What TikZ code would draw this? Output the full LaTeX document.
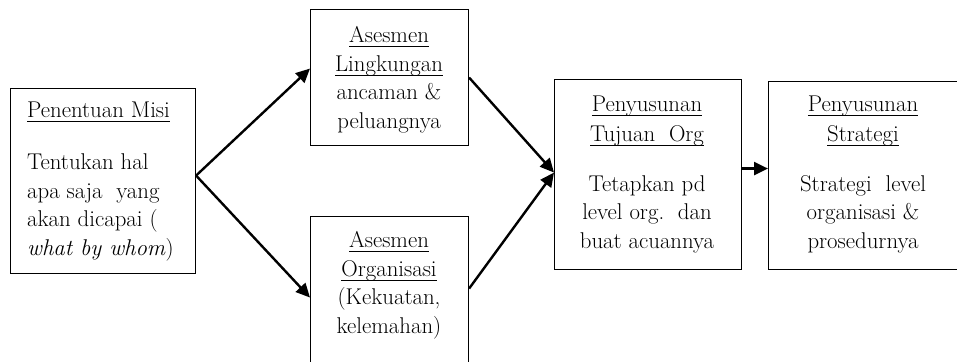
\documentclass[tikz,border=0pt]{standalone}
\usepackage{fontspec}
\setmainfont{Latin Modern Roman}
\usetikzlibrary{arrows.meta}
\newcommand\myul[1]{\setbox0\hbox{#1}\rlap{\rule[-4.5pt]{\wd0}{0.9pt}}\box0}
\begin{document}
\begin{tikzpicture}[x=1pt,y=-1pt,
  box/.style={draw,line width=1.1pt,inner sep=0pt,anchor=north west},
  arr/.style={line width=2.4pt,-{Triangle[length=14pt,width=13pt]}},
  txt/.style={font=\fontsize{22.8}{28.5}\selectfont,inner sep=0pt,align=center,anchor=base}]
\useasboundingbox (0,0) rectangle (957,361);
% boxes
\node[box,minimum width=185pt,minimum height=185pt] (m) at (10,88) {};
\node[box,minimum width=158pt,minimum height=136pt] (l) at (310,9) {};
\node[box,minimum width=158pt,minimum height=170pt] (o) at (310,216) {};
\node[box,minimum width=187pt,minimum height=190pt] (t) at (554,79) {};
\node[box,minimum width=200pt,minimum height=188pt] (s) at (768,81) {};
% texts (anchor = baseline of the last line)
\node[txt,align=left,anchor=base west] (mt) at (27,255)
  {\myul{Penentuan Misi}\\[23.5pt]Tentukan hal\\apa saja\ \ yang\\akan dicapai (\\\textit{what by whom})};
\node[txt] (lt) at (389,128) {\myul{Asesmen}\\\myul{Lingkungan}\\ancaman \&\\peluangnya};
\node[txt] (ot) at (389,333) {\myul{Asesmen}\\\myul{Organisasi}\\(Kekuatan,\\kelemahan)};
\node[txt] (tt) at (647,248) {\myul{Penyusunan}\\[1.5pt]\myul{Tujuan\ \ Org}\\[21.5pt]Tetapkan pd\\level org.\ \ dan\\buat acuannya};
\node[txt] (st) at (863,248) {\myul{Penyusunan}\\[1.5pt]\myul{Strategi}\\[21.5pt]Strategi\ \ level\\organisasi \&\\prosedurnya};
% connectors
\draw[arr] ([yshift=5.5pt]m.east) -- ([yshift=9pt]l.west);
\draw[arr] ([yshift=5.5pt]m.east) -- ([yshift=4pt]o.west);
\draw[arr] (l.east) -- ([yshift=2pt]t.west);
\draw[arr] ([yshift=13pt]o.east) -- ([yshift=2pt]t.west);
\draw[arr] ([yshift=6pt]t.east) -- ([yshift=7pt]s.west);
\end{tikzpicture}
\end{document}
